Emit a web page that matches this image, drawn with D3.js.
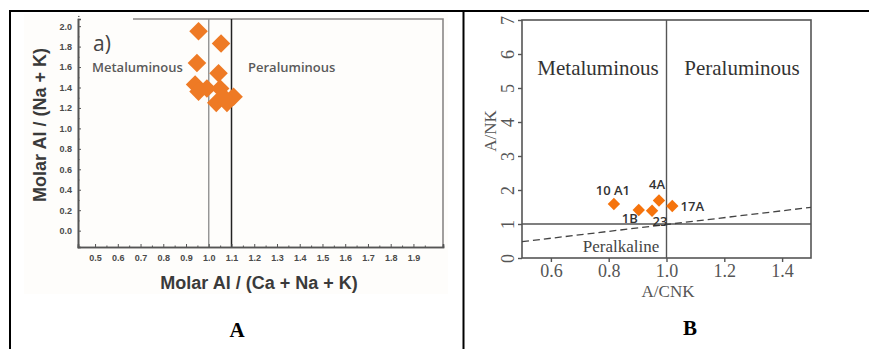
<!DOCTYPE html>
<html>
<head>
<meta charset="utf-8">
<script src="https://cdn.jsdelivr.net/npm/d3@7"></script>
<style>
  body { margin: 0; background: #fff; }
  svg { display: block; }
</style>
</head>
<body>
<svg id="chart" width="869" height="349"></svg>
<script>
// panel A : Molar Al/(Ca+Na+K) vs Molar Al/(Na+K)
const aX = [0.955, 1.054, 0.948, 1.043, 0.94, 0.992, 0.955, 1.05, 1.033, 1.08, 1.109, 1.065];
const aY = [1.95, 1.83, 1.64, 1.54, 1.43, 1.39, 1.36, 1.39, 1.25, 1.25, 1.31, 1.31];
const aXTicks = [0.5, 0.6, 0.7, 0.8, 0.9, 1.0, 1.1, 1.2, 1.3, 1.4, 1.5, 1.6, 1.7, 1.8, 1.9];
const aYTicks = [0.0, 0.2, 0.4, 0.6, 0.8, 1.0, 1.2, 1.4, 1.6, 1.8, 2.0];

// panel B : A/CNK vs A/NK
const bNames = ["10 A1", "1B", "23", "4A", "17A"];
const bX = [0.818, 0.904, 0.95, 0.974, 1.02];
const bY = [1.59, 1.41, 1.39, 1.69, 1.53];
const bXTicks = [0.6, 0.8, 1.0, 1.2, 1.4];
const bYTicks = [0, 1, 2, 3, 4, 5, 6, 7];
const bDash = [[0.5, 0.48], [1.5, 1.49]];

const svg = d3.select("#chart");
const orange = "#ee7a25";
const diamond = (r) => d3.symbol().type(d3.symbolDiamond2).size(r * r * 2)();

// table lines
svg.append("line").attr("x1", 10).attr("x2", 869).attr("y1", 11).attr("y2", 11)
    .attr("stroke", "#000").attr("stroke-width", 2);
svg.append("line").attr("x1", 10).attr("x2", 10).attr("y1", 10).attr("y2", 349)
    .attr("stroke", "#000").attr("stroke-width", 2);
svg.append("line").attr("x1", 463.5).attr("x2", 463.5).attr("y1", 10).attr("y2", 349)
    .attr("stroke", "#000").attr("stroke-width", 2);

// ---------- panel A ----------
svg.append("rect").attr("x", 24).attr("y", 14).attr("width", 424).attr("height", 280)
    .attr("fill", "#fefdfb");

const xa = d3.scaleLinear().domain([0.425, 2.03]).range([78, 443]);
const ya = d3.scaleLinear().domain([-0.16, 2.07]).range([247, 19]);

const gA = svg.append("g");

// frame top / right
gA.append("path")
    .attr("d", `M133,${ya(2.07)}H${xa(2.03)}V${ya(-0.16)}`)
    .attr("fill", "none").attr("stroke", "#8a8787").attr("stroke-width", 1.6);

// boundary lines
gA.append("line").attr("x1", xa(1.0)).attr("x2", xa(1.0)).attr("y1", ya(2.07)).attr("y2", ya(-0.16))
    .attr("stroke", "#8a8a8a").attr("stroke-width", 1.3);
gA.append("line").attr("x1", xa(1.1)).attr("x2", xa(1.1)).attr("y1", ya(2.07)).attr("y2", ya(-0.16))
    .attr("stroke", "#222").attr("stroke-width", 1.5);

gA.append("g").attr("transform", `translate(0,${ya(-0.16)})`)
    .call(d3.axisBottom(xa).tickValues(aXTicks).tickSize(-3).tickPadding(8).tickFormat(d3.format(".1f")));
gA.append("g").attr("transform", `translate(0,${ya(-0.16)})`)
    .call(d3.axisBottom(xa).tickValues(aXTicks.map(d => d + 0.05)).tickSize(-1.5).tickFormat(""));
gA.append("g").attr("transform", `translate(${xa(0.425)},0)`)
    .call(d3.axisLeft(ya).tickValues(aYTicks).tickSize(-3).tickPadding(6).tickFormat(d3.format(".1f")));
gA.append("g").attr("transform", `translate(${xa(0.425)},0)`)
    .call(d3.axisLeft(ya).tickValues(aYTicks.map(d => d + 0.1)).tickSize(-1.5).tickFormat(""));

gA.selectAll(".domain").attr("stroke", "#555").attr("stroke-width", 1.6);
gA.selectAll(".tick line").attr("stroke", "#555");
gA.selectAll(".tick text").attr("fill", "#4a4a4a").style("font", "bold 9px 'Liberation Sans', Arial, sans-serif");

gA.append("text").attr("x", 259).attr("y", 289).attr("text-anchor", "middle")
    .attr("fill", "#3a3a3a").style("font", "bold 18px 'Liberation Sans', Arial, sans-serif")
    .text("Molar Al / (Ca + Na + K)");
gA.append("text").attr("transform", "translate(46,125) rotate(-90)").attr("text-anchor", "middle")
    .attr("fill", "#3a3a3a").style("font", "bold 18px 'Liberation Sans', Arial, sans-serif")
    .text("Molar Al / (Na + K)");

gA.append("text").attr("x", 93).attr("y", 51).attr("fill", "#444")
    .style("font", "21px 'Open Sans', sans-serif").text("a)");
gA.append("text").attr("x", 92).attr("y", 72).attr("fill", "#5a5a5a")
    .style("font", "600 13px 'Open Sans', sans-serif").text("Metaluminous");
gA.append("text").attr("x", 248).attr("y", 72).attr("fill", "#5a5a5a")
    .style("font", "600 13px 'Open Sans', sans-serif").text("Peraluminous");

gA.selectAll("path.pt")
    .data(aX)
    .enter()
    .append("path")
    .attr("class", "pt")
    .attr("d", diamond(10.5))
    .attr("transform", (d, i) => `translate(${xa(d)},${ya(aY[i])})`)
    .attr("fill", orange);

svg.append("text").attr("x", 237).attr("y", 337).attr("text-anchor", "middle")
    .style("font", "bold 21px 'Liberation Serif', 'Times New Roman', serif").text("A");

// ---------- panel B ----------
const xb = d3.scaleLinear().domain([0.5, 1.5]).range([522, 811]);
const yb = d3.scaleLinear().domain([0, 7]).range([258, 20]);

const gB = svg.append("g");
const frameCol = "#555";

gB.append("rect").attr("x", xb(0.5)).attr("y", yb(7)).attr("width", xb(1.5) - xb(0.5)).attr("height", yb(0) - yb(7))
    .attr("fill", "none").attr("stroke", frameCol).attr("stroke-width", 1.6);
gB.append("line").attr("x1", xb(0.5)).attr("x2", xb(1.5)).attr("y1", yb(1)).attr("y2", yb(1))
    .attr("stroke", frameCol).attr("stroke-width", 1.4);
gB.append("line").attr("x1", xb(1.0)).attr("x2", xb(1.0)).attr("y1", yb(7)).attr("y2", yb(0))
    .attr("stroke", frameCol).attr("stroke-width", 1.4);
gB.append("line")
    .attr("x1", xb(bDash[0][0])).attr("y1", yb(bDash[0][1]))
    .attr("x2", xb(bDash[1][0])).attr("y2", yb(bDash[1][1]))
    .attr("stroke", "#444").attr("stroke-width", 1.3).attr("stroke-dasharray", "7,4");

gB.append("g").attr("transform", `translate(0,${yb(0)})`)
    .call(d3.axisBottom(xb).tickValues(bXTicks).tickSize(4).tickPadding(2).tickFormat(d3.format(".1f")));
const ayB = gB.append("g").attr("transform", `translate(${xb(0.5)},0)`)
    .call(d3.axisLeft(yb).tickValues(bYTicks).tickSize(4).tickFormat(d3.format("d")));

gB.selectAll(".domain").remove();
gB.selectAll(".tick line").attr("stroke", frameCol).attr("stroke-width", 1.4);
gB.selectAll(".tick text").attr("fill", "#555").style("font", "18px 'Liberation Serif', 'Times New Roman', serif");
ayB.selectAll(".tick text")
    .attr("transform", "rotate(-90)")
    .attr("x", 0).attr("y", -8).attr("dy", 0)
    .attr("text-anchor", "middle");

gB.append("text").attr("x", 668).attr("y", 297).attr("text-anchor", "middle")
    .attr("fill", "#555").style("font", "17px 'Liberation Serif', 'Times New Roman', serif").text("A/CNK");
gB.append("text").attr("transform", "translate(496,131) rotate(-90)").attr("text-anchor", "middle")
    .attr("fill", "#555").style("font", "17px 'Liberation Serif', 'Times New Roman', serif").text("A/NK");

gB.append("text").attr("x", 598).attr("y", 75).attr("text-anchor", "middle")
    .attr("fill", "#333").style("font", "21px 'Liberation Serif', 'Times New Roman', serif").text("Metaluminous");
gB.append("text").attr("x", 742).attr("y", 75).attr("text-anchor", "middle")
    .attr("fill", "#333").style("font", "21px 'Liberation Serif', 'Times New Roman', serif").text("Peraluminous");
gB.append("text").attr("x", 621).attr("y", 252).attr("text-anchor", "middle")
    .attr("fill", "#444").style("font", "17px 'Liberation Serif', 'Times New Roman', serif").text("Peralkaline");

gB.selectAll("path.pt")
    .data(bX)
    .enter()
    .append("path")
    .attr("class", "pt")
    .attr("d", diamond(7))
    .attr("transform", (d, i) => `translate(${xb(d)},${yb(bY[i])})`)
    .attr("fill", "#f5730c");

// point labels, offsets
const bLabelDx = [-1, -9, 8, -2, 20];
const bLabelDy = [-9, 13, 15, -12, 5];
gB.selectAll("text.lab")
    .data(bNames)
    .enter()
    .append("text")
    .attr("class", "lab")
    .attr("x", (d, i) => xb(bX[i]) + bLabelDx[i])
    .attr("y", (d, i) => yb(bY[i]) + bLabelDy[i])
    .attr("text-anchor", "middle")
    .attr("fill", "#333")
    .style("font", "600 13px 'Open Sans', sans-serif")
    .text(d => d);

svg.append("text").attr("x", 690).attr("y", 335).attr("text-anchor", "middle")
    .style("font", "bold 21px 'Liberation Serif', 'Times New Roman', serif").text("B");
</script>
</body>
</html>
